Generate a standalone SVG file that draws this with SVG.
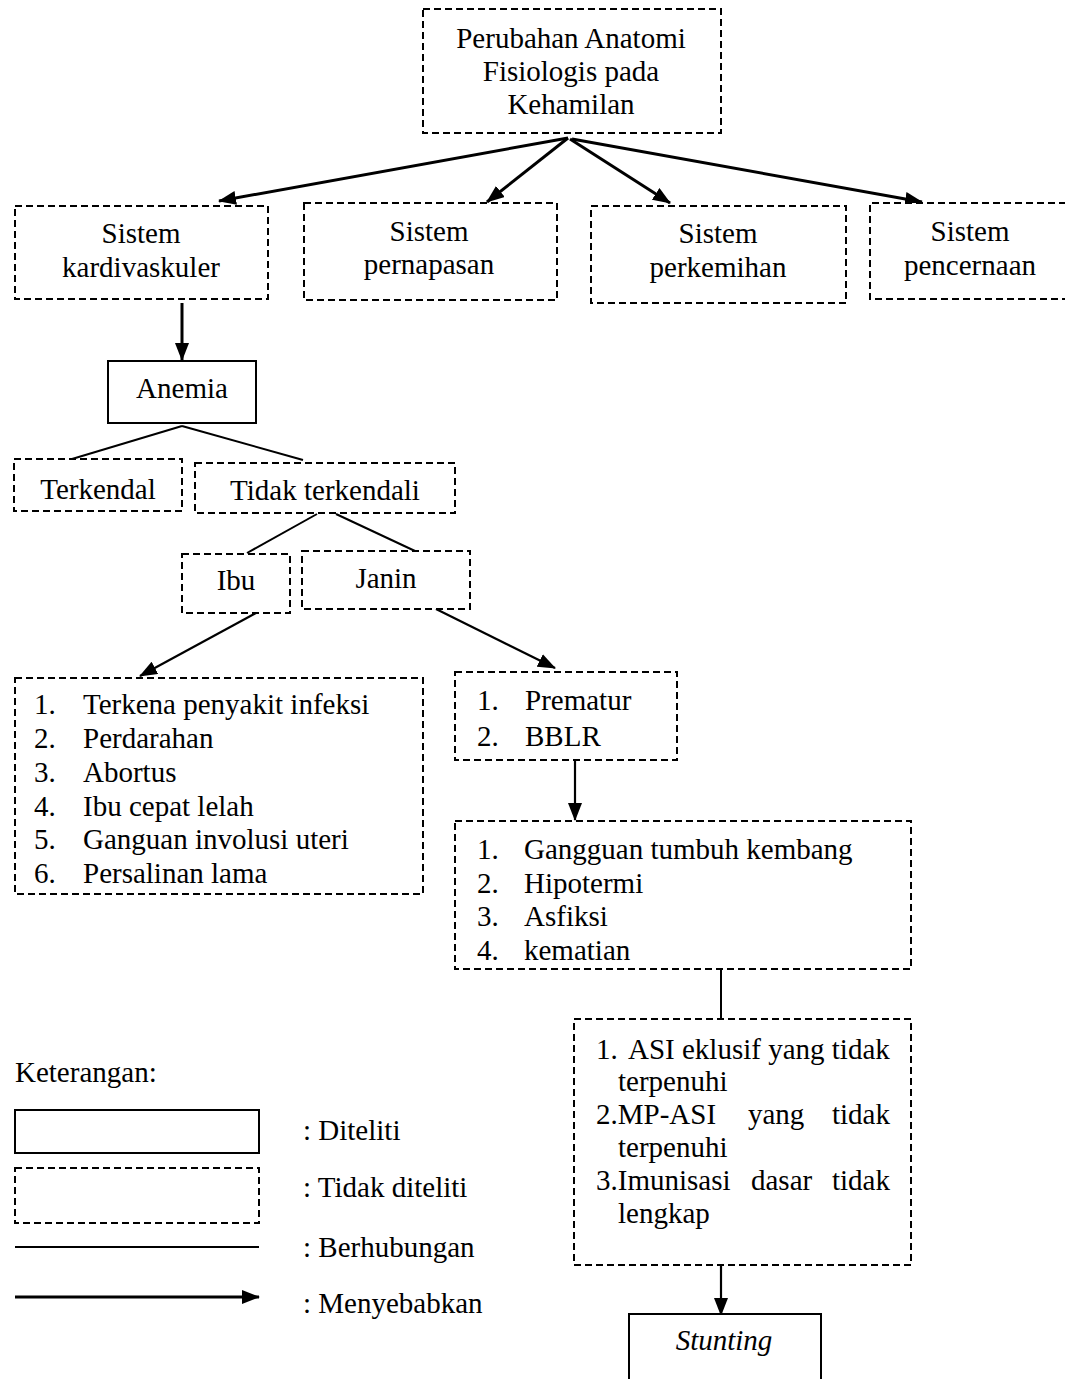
<svg xmlns="http://www.w3.org/2000/svg" width="1065" height="1379" viewBox="0 0 1065 1379">
<style>
text{font-family:"Liberation Serif","Times New Roman",serif;font-size:29px;fill:#000}
.c{text-anchor:middle}
.d{fill:#fff;stroke:#000;stroke-width:2;stroke-dasharray:7 4}
.s{fill:#fff;stroke:#000;stroke-width:2}
.a{stroke:#000;stroke-width:3;fill:none}
.a2{stroke:#000;stroke-width:2.2;fill:none}
.l{stroke:#000;stroke-width:2;fill:none}
</style>
<defs>
<marker id="ah" markerUnits="userSpaceOnUse" markerWidth="18" markerHeight="14" refX="17" refY="7" orient="auto"><path d="M0,0 L18,7 L0,14 Z" fill="#000"/></marker>
</defs>
<rect width="1065" height="1379" fill="#fff"/>
<g id="connectors">
<line class="a" x1="568" y1="138" x2="219" y2="201" marker-end="url(#ah)"/>
<line class="a" x1="568" y1="138" x2="487" y2="202" marker-end="url(#ah)"/>
<line class="a" x1="570" y1="139" x2="670" y2="203" marker-end="url(#ah)"/>
<line class="a" x1="572" y1="139" x2="922" y2="202" marker-end="url(#ah)"/>
<line class="a" x1="182" y1="303" x2="182" y2="360" marker-end="url(#ah)"/>
<line class="l" x1="182" y1="426" x2="72" y2="459"/>
<line class="l" x1="182" y1="426" x2="303" y2="460"/>
<line class="l" x1="317" y1="514" x2="247" y2="553"/>
<line class="l" x1="336" y1="514" x2="415" y2="551"/>
<line class="a2" x1="256" y1="613" x2="140" y2="676" marker-end="url(#ah)"/>
<line class="a2" x1="436" y1="609" x2="555" y2="668" marker-end="url(#ah)"/>
<line class="a2" x1="575" y1="761" x2="575" y2="820" marker-end="url(#ah)"/>
<line class="l" x1="721" y1="969" x2="721" y2="1019"/>
<line class="a2" x1="721" y1="1265" x2="721" y2="1315" marker-end="url(#ah)"/>
</g>
<g id="n-top"><rect class="d" x="423" y="9" width="298" height="124"/>
<text class="c" x="571" y="48">Perubahan Anatomi</text>
<text class="c" x="571" y="81">Fisiologis pada</text>
<text class="c" x="571" y="114">Kehamilan</text></g>
<g id="n-kardi"><rect class="d" x="15" y="206" width="253" height="93"/>
<text class="c" x="141" y="243">Sistem</text><text class="c" x="141" y="277">kardivaskuler</text></g>
<g id="n-perna"><rect class="d" x="304" y="203" width="253" height="97"/>
<text class="c" x="429" y="241">Sistem</text><text class="c" x="429" y="274">pernapasan</text></g>
<g id="n-perke"><rect class="d" x="591" y="206" width="255" height="97"/>
<text class="c" x="718" y="243">Sistem</text><text class="c" x="718" y="277">perkemihan</text></g>
<g id="n-penc"><path class="d" d="M1066,203 H870 V299 H1066" />
<text class="c" x="970" y="241">Sistem</text><text class="c" x="970" y="275">pencernaan</text></g>
<g id="n-anemia"><rect class="s" x="108" y="361" width="148" height="62"/>
<text class="c" x="182" y="398">Anemia</text></g>
<g id="n-terkendal"><rect class="d" x="14" y="459" width="168" height="52"/>
<text class="c" x="98" y="499">Terkendal</text></g>
<g id="n-tidak"><rect class="d" x="195" y="463" width="260" height="50"/>
<text class="c" x="325" y="500">Tidak terkendali</text></g>
<g id="n-ibu"><rect class="d" x="182" y="554" width="108" height="59"/>
<text class="c" x="236" y="590">Ibu</text></g>
<g id="n-janin"><rect class="d" x="302" y="551" width="168" height="58"/>
<text class="c" x="386" y="588">Janin</text></g>
<g id="n-ibulist"><rect class="d" x="15" y="678" width="408" height="216"/>
<text x="34" y="714">1.</text><text x="83" y="714">Terkena penyakit infeksi</text>
<text x="34" y="748">2.</text><text x="83" y="748">Perdarahan</text>
<text x="34" y="782">3.</text><text x="83" y="782">Abortus</text>
<text x="34" y="816">4.</text><text x="83" y="816">Ibu cepat lelah</text>
<text x="34" y="849">5.</text><text x="83" y="849">Ganguan involusi uteri</text>
<text x="34" y="883">6.</text><text x="83" y="883">Persalinan lama</text></g>
<g id="n-janinlist"><rect class="d" x="455" y="672" width="222" height="88"/>
<text x="477" y="710">1.</text><text x="525" y="710">Prematur</text>
<text x="477" y="746">2.</text><text x="525" y="746">BBLR</text></g>
<g id="n-gangguan"><rect class="d" x="455" y="821" width="456" height="148"/>
<text x="477" y="859">1.</text><text x="524" y="859">Gangguan tumbuh kembang</text>
<text x="477" y="893">2.</text><text x="524" y="893">Hipotermi</text>
<text x="477" y="926">3.</text><text x="524" y="926">Asfiksi</text>
<text x="477" y="960">4.</text><text x="524" y="960">kematian</text></g>
<g id="n-asi"><rect class="d" x="574" y="1019" width="337" height="246"/>
<text x="596" y="1059">1.</text><text x="628" y="1059">ASI eklusif yang tidak</text>
<text x="618" y="1091">terpenuhi</text>
<text x="596" y="1124">2.MP-ASI</text><text x="748" y="1124">yang</text><text x="890" y="1124" text-anchor="end">tidak</text>
<text x="618" y="1157">terpenuhi</text>
<text x="596" y="1190">3.Imunisasi</text><text x="751" y="1190">dasar</text><text x="890" y="1190" text-anchor="end">tidak</text>
<text x="618" y="1223">lengkap</text></g>
<g id="n-stunting"><path class="s" d="M629,1381 V1314 H821 V1381"/>
<text class="c" x="724" y="1350" font-style="italic">Stunting</text></g>
<g id="legend">
<text x="15" y="1082">Keterangan:</text>
<rect class="s" x="15" y="1110" width="244" height="43"/>
<text x="303" y="1140">: Diteliti</text>
<rect class="d" x="15" y="1168" width="244" height="55"/>
<text x="303" y="1197">: Tidak diteliti</text>
<line class="l" x1="15" y1="1247" x2="259" y2="1247"/>
<text x="303" y="1257">: Berhubungan</text>
<line class="a" x1="15" y1="1297" x2="259" y2="1297" marker-end="url(#ah)"/>
<text x="303" y="1313">: Menyebabkan</text>
</g>
</svg>
